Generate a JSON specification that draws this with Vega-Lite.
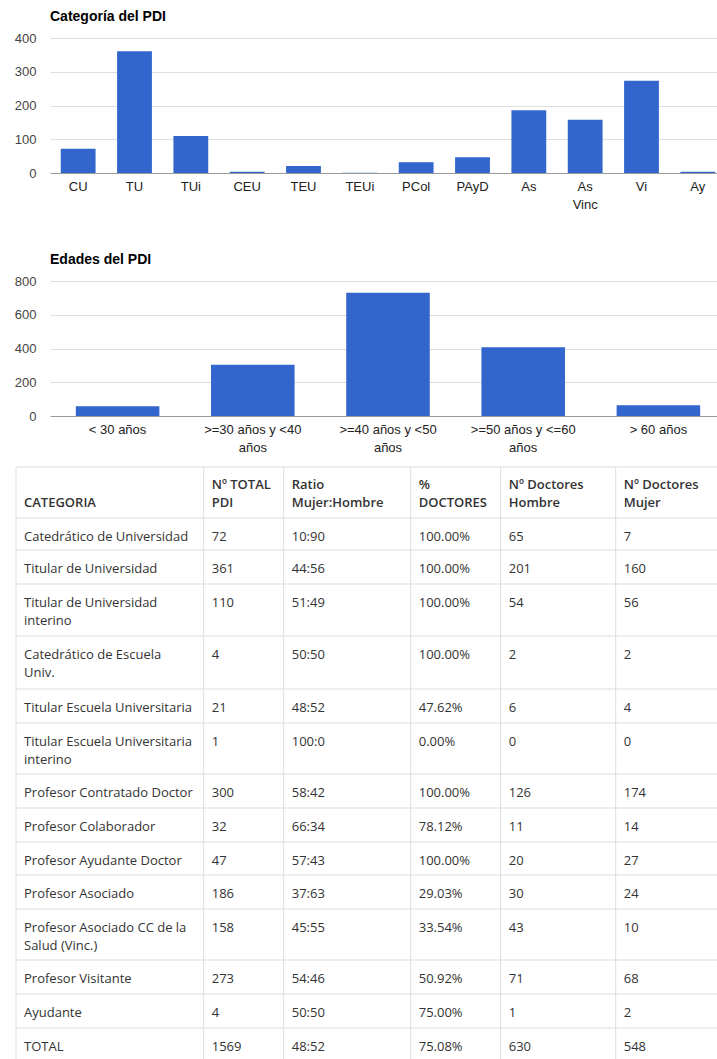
{
  "$schema": "https://vega.github.io/schema/vega-lite/v6.json",
  "background": "white",
  "padding": {"left": 14, "top": 10, "right": 0, "bottom": 0},
  "autosize": {"type": "pad"},
  "bounds": "flush",
  "spacing": 108,
  "config": {
    "view": {"stroke": null},
    "title": {"anchor": "start", "frame": "group", "offset": 8, "baseline": "alphabetic", "font": "Liberation Sans", "fontSize": 14, "fontWeight": "bold", "color": "#000000"},
    "axisX": {"title": null, "labelAngle": 0, "ticks": false, "tickSize": 0, "labelPadding": 7, "domainColor": "#999999", "labelColor": "#222222", "labelFont": "Liberation Sans", "labelFontSize": 13, "labelLineHeight": 18, "grid": false},
    "axisY": {"title": null, "ticks": false, "tickSize": 0, "domain": false, "labelPadding": 14, "labelColor": "#444444", "labelFont": "Liberation Sans", "labelFontSize": 13, "grid": true, "gridColor": "#dddddd"}
  },
  "datasets": {
    "categorias": [
      {"cat": "CU", "n": 72},
      {"cat": "TU", "n": 361},
      {"cat": "TUi", "n": 110},
      {"cat": "CEU", "n": 4},
      {"cat": "TEU", "n": 21},
      {"cat": "TEUi", "n": 1},
      {"cat": "PCol", "n": 32},
      {"cat": "PAyD", "n": 47},
      {"cat": "As", "n": 186},
      {"cat": "As Vinc", "n": 158},
      {"cat": "Vi", "n": 273},
      {"cat": "Ay", "n": 4}
    ],
    "edades": [
      {"edad": "< 30 años", "n": 58},
      {"edad": ">=30 años y <40 años", "n": 303},
      {"edad": ">=40 años y <50 años", "n": 731},
      {"edad": ">=50 años y <=60 años", "n": 408},
      {"edad": "> 60 años", "n": 63}
    ],
    "header": [
      {"col": 0, "l1": "", "l2": "CATEGORIA"},
      {"col": 1, "l1": "Nº TOTAL", "l2": "PDI"},
      {"col": 2, "l1": "Ratio", "l2": "Mujer:Hombre"},
      {"col": 3, "l1": "%", "l2": "DOCTORES"},
      {"col": 4, "l1": "Nº Doctores", "l2": "Hombre"},
      {"col": 5, "l1": "Nº Doctores", "l2": "Mujer"}
    ],
    "tabla": [
      {"row": 1, "categoria": "Catedrático de Universidad", "total": "72", "ratio": "10:90", "doctores": "100.00%", "dh": "65", "dm": "7"},
      {"row": 2, "categoria": "Titular de Universidad", "total": "361", "ratio": "44:56", "doctores": "100.00%", "dh": "201", "dm": "160"},
      {"row": 3, "categoria": "Titular de Universidad\ninterino", "total": "110", "ratio": "51:49", "doctores": "100.00%", "dh": "54", "dm": "56"},
      {"row": 4, "categoria": "Catedrático de Escuela\nUniv.", "total": "4", "ratio": "50:50", "doctores": "100.00%", "dh": "2", "dm": "2"},
      {"row": 5, "categoria": "Titular Escuela Universitaria", "total": "21", "ratio": "48:52", "doctores": "47.62%", "dh": "6", "dm": "4"},
      {"row": 6, "categoria": "Titular Escuela Universitaria\ninterino", "total": "1", "ratio": "100:0", "doctores": "0.00%", "dh": "0", "dm": "0"},
      {"row": 7, "categoria": "Profesor Contratado Doctor", "total": "300", "ratio": "58:42", "doctores": "100.00%", "dh": "126", "dm": "174"},
      {"row": 8, "categoria": "Profesor Colaborador", "total": "32", "ratio": "66:34", "doctores": "78.12%", "dh": "11", "dm": "14"},
      {"row": 9, "categoria": "Profesor Ayudante Doctor", "total": "47", "ratio": "57:43", "doctores": "100.00%", "dh": "20", "dm": "27"},
      {"row": 10, "categoria": "Profesor Asociado", "total": "186", "ratio": "37:63", "doctores": "29.03%", "dh": "30", "dm": "24"},
      {"row": 11, "categoria": "Profesor Asociado CC de la\nSalud (Vinc.)", "total": "158", "ratio": "45:55", "doctores": "33.54%", "dh": "43", "dm": "10"},
      {"row": 12, "categoria": "Profesor Visitante", "total": "273", "ratio": "54:46", "doctores": "50.92%", "dh": "71", "dm": "68"},
      {"row": 13, "categoria": "Ayudante", "total": "4", "ratio": "50:50", "doctores": "75.00%", "dh": "1", "dm": "2"},
      {"row": 14, "categoria": "TOTAL", "total": "1569", "ratio": "48:52", "doctores": "75.08%", "dh": "630", "dm": "548"}
    ]
  },
  "vconcat": [
    {
      "width": 676,
      "height": 135,
      "title": {"text": "Categoría del PDI"},
      "data": {"name": "categorias"},
      "mark": {"type": "bar", "color": "#3366cc"},
      "encoding": {
        "x": {"field": "cat", "type": "nominal", "sort": null, "scale": {"paddingInner": 0.382, "paddingOuter": 0.191},
              "axis": {"labelExpr": "datum.label == 'As Vinc' ? ['As', 'Vinc'] : datum.label"}},
        "y": {"field": "n", "type": "quantitative", "scale": {"domain": [0, 400], "nice": false}, "axis": {"values": [0, 100, 200, 300, 400]}}
      }
    },
    {
      "width": 676,
      "height": 135,
      "title": {"text": "Edades del PDI"},
      "data": {"name": "edades"},
      "mark": {"type": "bar", "color": "#3366cc"},
      "encoding": {
        "x": {"field": "edad", "type": "nominal", "sort": null, "scale": {"paddingInner": 0.382, "paddingOuter": 0.191},
              "axis": {"labelExpr": "indexof(datum.label, ' y ') >= 0 ? [slice(datum.label, 0, lastindexof(datum.label, ' ')), 'años'] : datum.label"}},
        "y": {"field": "n", "type": "quantitative", "scale": {"domain": [0, 800], "nice": false}, "axis": {"values": [0, 200, 400, 600, 800]}}
      }
    },
    {
      "width": 676,
      "height": 540,
      "data": {"name": "tabla"},
      "layer": [
        {
          "mark": {"type": "rule", "color": "#dddddd", "strokeWidth": 1},
          "encoding": {
            "y": {"field": "row", "type": "quantitative", "axis": null,
                  "scale": {"domain": [0, 1, 2, 3, 4, 5, 6, 7, 8, 9, 10, 11, 12, 13, 14, 15],
                            "range": [-57, -6, 26, 60, 112, 165, 199, 250, 284, 318, 351, 385, 436, 470, 504, 538],
                            "nice": false, "zero": false}},
            "x": {"datum": 0, "type": "quantitative", "axis": null,
                  "scale": {"domain": [0, 1, 2, 3, 4, 5, 6], "range": [-34, 153.7, 233.7, 360.7, 450.7, 565.7, 690], "nice": false, "zero": false}},
            "x2": {"datum": 6}
          }
        },
        {
          "data": {"values": [{"edge": "top"}]},
          "mark": {"type": "rule", "color": "#dddddd", "strokeWidth": 1},
          "encoding": {
            "y": {"datum": 0, "type": "quantitative", "axis": null},
            "x": {"datum": 0, "type": "quantitative", "axis": null},
            "x2": {"datum": 6}
          }
        },
        {
          "data": {"values": [{"edge": "bottom"}]},
          "mark": {"type": "rule", "color": "#dddddd", "strokeWidth": 1},
          "encoding": {
            "y": {"datum": 15, "type": "quantitative", "axis": null},
            "x": {"datum": 0, "type": "quantitative", "axis": null},
            "x2": {"datum": 6}
          }
        },
        {
          "data": {"name": "header"},
          "mark": {"type": "rule", "color": "#dddddd", "strokeWidth": 1},
          "encoding": {
            "x": {"field": "col", "type": "quantitative", "axis": null},
            "y": {"datum": 0, "type": "quantitative", "axis": null},
            "y2": {"datum": 15}
          }
        },
        {
          "data": {"name": "header"},
          "mark": {"type": "text", "align": "left", "baseline": "top", "dx": 8, "dy": 12, "font": "Open Sans", "fontSize": 13, "fontWeight": 600, "color": "#333333"},
          "encoding": {
            "x": {"field": "col", "type": "quantitative", "axis": null},
            "y": {"datum": 0, "type": "quantitative", "axis": null},
            "text": {"field": "l1", "type": "nominal"}
          }
        },
        {
          "data": {"name": "header"},
          "mark": {"type": "text", "align": "left", "baseline": "top", "dx": 8, "dy": 30, "font": "Open Sans", "fontSize": 13, "fontWeight": 600, "color": "#333333"},
          "encoding": {
            "x": {"field": "col", "type": "quantitative", "axis": null},
            "y": {"datum": 0, "type": "quantitative", "axis": null},
            "text": {"field": "l2", "type": "nominal"}
          }
        },
        {
          "mark": {"type": "text", "align": "left", "baseline": "top", "dx": 8, "dy": 13, "font": "Open Sans", "fontSize": 13, "color": "#333333", "lineBreak": "\n", "lineHeight": 18},
          "encoding": {
            "x": {"datum": 0, "type": "quantitative", "axis": null},
            "y": {"field": "row", "type": "quantitative", "axis": null},
            "text": {"field": "categoria", "type": "nominal"}
          }
        },
        {
          "mark": {"type": "text", "align": "left", "baseline": "top", "dx": 8, "dy": 13, "font": "Open Sans", "fontSize": 13, "color": "#333333", "lineBreak": "\n", "lineHeight": 18},
          "encoding": {
            "x": {"datum": 1, "type": "quantitative", "axis": null},
            "y": {"field": "row", "type": "quantitative", "axis": null},
            "text": {"field": "total", "type": "nominal"}
          }
        },
        {
          "mark": {"type": "text", "align": "left", "baseline": "top", "dx": 8, "dy": 13, "font": "Open Sans", "fontSize": 13, "color": "#333333", "lineBreak": "\n", "lineHeight": 18},
          "encoding": {
            "x": {"datum": 2, "type": "quantitative", "axis": null},
            "y": {"field": "row", "type": "quantitative", "axis": null},
            "text": {"field": "ratio", "type": "nominal"}
          }
        },
        {
          "mark": {"type": "text", "align": "left", "baseline": "top", "dx": 8, "dy": 13, "font": "Open Sans", "fontSize": 13, "color": "#333333", "lineBreak": "\n", "lineHeight": 18},
          "encoding": {
            "x": {"datum": 3, "type": "quantitative", "axis": null},
            "y": {"field": "row", "type": "quantitative", "axis": null},
            "text": {"field": "doctores", "type": "nominal"}
          }
        },
        {
          "mark": {"type": "text", "align": "left", "baseline": "top", "dx": 8, "dy": 13, "font": "Open Sans", "fontSize": 13, "color": "#333333", "lineBreak": "\n", "lineHeight": 18},
          "encoding": {
            "x": {"datum": 4, "type": "quantitative", "axis": null},
            "y": {"field": "row", "type": "quantitative", "axis": null},
            "text": {"field": "dh", "type": "nominal"}
          }
        },
        {
          "mark": {"type": "text", "align": "left", "baseline": "top", "dx": 8, "dy": 13, "font": "Open Sans", "fontSize": 13, "color": "#333333", "lineBreak": "\n", "lineHeight": 18},
          "encoding": {
            "x": {"datum": 5, "type": "quantitative", "axis": null},
            "y": {"field": "row", "type": "quantitative", "axis": null},
            "text": {"field": "dm", "type": "nominal"}
          }
        }
      ]
    }
  ]
}
